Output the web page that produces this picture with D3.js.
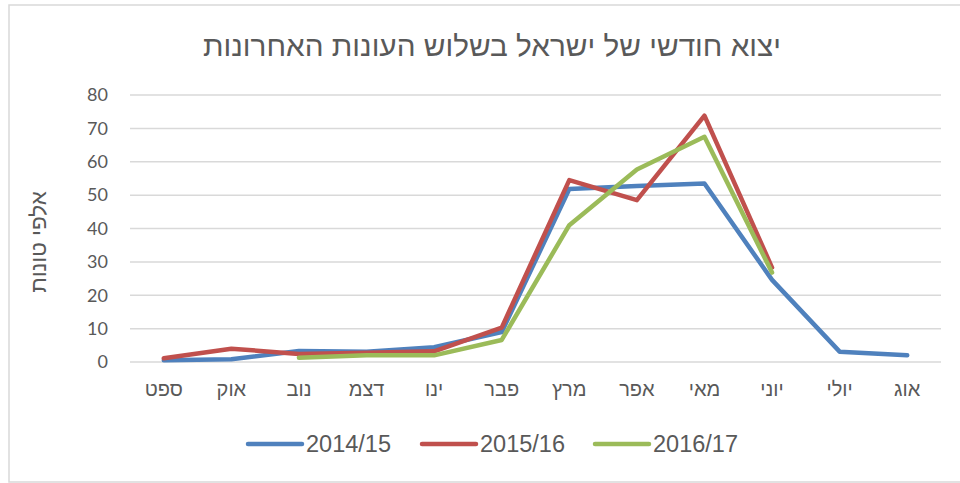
<!DOCTYPE html>
<html>
<head>
<meta charset="utf-8">
<script src="https://cdn.jsdelivr.net/npm/d3@7"></script>
<style>
  body { margin: 0; background: #fff; }
  svg { display: block; }
</style>
</head>
<body>
<script>
// months from September to August
const months = ['ספט', 'אוק', 'נוב', 'דצמ', 'ינו', 'פבר', 'מרץ', 'אפר', 'מאי', 'יוני', 'יולי', 'אוג'];
const seasons = ['2014/15', '2015/16', '2016/17'];
const colors = ['#4f81bd', '#c0504d', '#9bbb59'];

// thousands of tons
const s2014 = [0.5, 0.8, 3.3, 3.1, 4.4, 9.0, 51.8, 52.7, 53.5, 24.6, 3.1, 2.0];
const s2015 = [1.1, 4.0, 2.4, 2.8, 3.2, 10.3, 54.5, 48.5, 73.8, 28.3, null, null];
const s2016 = [null, null, 1.3, 2.0, 2.0, 6.6, 41.0, 57.7, 67.5, 26.8, null, null];
const yTicks = [0, 10, 20, 30, 40, 50, 60, 70, 80];

const width = 960, height = 483;
const margin = { top: 95, right: 19, bottom: 121, left: 130 };
const font = '"Liberation Sans", Arial, sans-serif';

const svg = d3.select('body').append('svg')
    .attr('width', width)
    .attr('height', height);

// chart border
svg.append('rect')
    .attr('x', 9).attr('y', 5)
    .attr('width', width - 9 + 2).attr('height', 477)
    .attr('fill', 'none')
    .attr('stroke', '#d9d9d9')
    .attr('stroke-width', 1.5);

const x = d3.scaleBand()
    .domain(months)
    .range([margin.left, width - margin.right]);

const y = d3.scaleLinear()
    .domain([0, 80])
    .range([height - margin.bottom, margin.top]);

// gridlines
svg.append('g')
    .selectAll('line')
    .data(yTicks)
    .enter()
    .append('line')
    .attr('x1', margin.left)
    .attr('x2', width - margin.right)
    .attr('y1', d => y(d))
    .attr('y2', d => y(d))
    .attr('stroke', '#d9d9d9')
    .attr('stroke-width', 1.5);

// y axis labels
const yAxis = svg.append('g')
    .attr('transform', 'translate(' + (margin.left - 22) + ',0)')
    .call(d3.axisLeft(y).tickValues(yTicks).tickSize(0).tickPadding(0));
yAxis.select('.domain').remove();
yAxis.selectAll('text')
    .attr('font-family', 'Lato, "Open Sans", sans-serif')
    .attr('font-size', 18)
    .attr('fill', '#595959');

// x axis labels
const xAxis = svg.append('g')
    .attr('transform', 'translate(0,' + (height - margin.bottom + 20) + ')')
    .call(d3.axisBottom(x).tickSize(0).tickPadding(0));
xAxis.select('.domain').remove();
xAxis.selectAll('text')
    .attr('font-family', font)
    .attr('font-size', 20)
    .attr('fill', '#595959');

// lines
const series = [s2014, s2015, s2016];
const line = d3.line()
    .defined(d => d.v !== null)
    .x(d => x(d.m) + x.bandwidth() / 2)
    .y(d => y(d.v));

svg.append('g')
    .selectAll('path')
    .data(series)
    .enter()
    .append('path')
    .attr('d', s => line(s.map((v, i) => ({ m: months[i], v: v }))))
    .attr('fill', 'none')
    .attr('stroke', (s, i) => colors[i])
    .attr('stroke-width', 4.5)
    .attr('stroke-linejoin', 'round')
    .attr('stroke-linecap', 'round');

// title
svg.append('text')
    .attr('x', 492)
    .attr('y', 56)
    .attr('text-anchor', 'middle')
    .attr('direction', 'rtl')
    .attr('font-family', font)
    .attr('font-size', 29)
    .attr('textLength', 578)
    .attr('lengthAdjust', 'spacingAndGlyphs')
    .attr('fill', '#595959')
    .text('יצוא חודשי של ישראל בשלוש העונות האחרונות');

// y axis title
svg.append('text')
    .attr('transform', 'translate(40,242) rotate(-90)')
    .attr('text-anchor', 'middle')
    .attr('dominant-baseline', 'middle')
    .attr('direction', 'rtl')
    .attr('font-family', font)
    .attr('font-size', 22.5)
    .attr('fill', '#595959')
    .text('אלפי טונות');

// legend
const legendX = [248, 422, 595];
const legend = svg.append('g')
    .selectAll('g')
    .data(seasons)
    .enter()
    .append('g')
    .attr('transform', (d, i) => 'translate(' + legendX[i] + ',444)');
legend.append('line')
    .attr('x1', 0).attr('x2', 54)
    .attr('stroke', (d, i) => colors[i])
    .attr('stroke-width', 4.5)
    .attr('stroke-linecap', 'round');
legend.append('text')
    .attr('x', 58)
    .attr('dy', '0.36em')
    .attr('font-family', font)
    .attr('font-size', 23)
    .attr('textLength', 85)
    .attr('lengthAdjust', 'spacingAndGlyphs')
    .attr('fill', '#595959')
    .text(d => d);
</script>
</body>
</html>
